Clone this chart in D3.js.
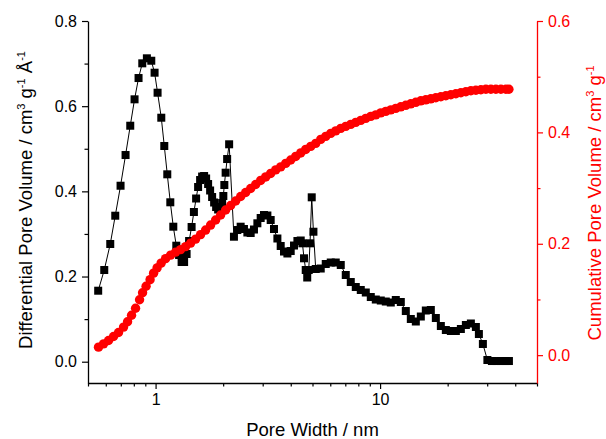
<!DOCTYPE html>
<html><head><meta charset="utf-8">
<script src="https://cdn.jsdelivr.net/npm/d3@7"></script>
<style>
body{margin:0;background:#fff}
svg{display:block}
text{font-family:"Liberation Sans",Arial,Helvetica,sans-serif}
</style>
</head><body>
<svg id="chart" width="606" height="439"></svg>
<script>
// Differential pore volume (black squares)
const poreWidthDiff = [
0.5551,0.5907,0.6282,0.6613,0.6982,0.7350,0.7712,0.8060,0.8397,0.8724,
0.9146,0.9568,0.9898,1.0207,1.0603,1.0934,1.1275,1.1630,1.1993,1.2368,
1.2729,1.3060,1.3399,1.3746,1.4104,1.4470,1.4815,1.5154,1.5468,1.5789,
1.6117,1.6451,1.6793,1.7141,1.7497,1.7860,1.8231,1.8609,1.8995,1.9389,
1.9791,2.0036,2.0243,2.0514,2.0833,2.1265,2.2338,2.3131,2.3931,2.4756,
2.5635,2.6518,2.7433,2.8406,2.9385,3.0397,3.1477,3.2562,3.3684,3.4880,
3.6083,3.7325,3.8650,3.9984,4.1362,4.2831,4.4307,4.5087,4.5834,4.6642,
4.7366,4.8101,4.8747,4.9605,5.0478,5.1685,
5.4407,5.7273,6.0291,6.3467,6.6810,7.0329,7.4034,7.7934,8.2039,8.6361,
9.0909,9.5697,10.072,10.603,11.161,11.749,12.368,13.019,13.705,14.427,
15.187,15.986,16.828,17.715,18.648,19.630,20.664,21.753,22.899,24.105,
25.375,26.712,27.548,28.702,30.06,31.481,32.969,34.528,36.161,37.49];
const diffVolume = [
0.1667,0.2153,0.2764,0.3428,0.4132,0.4853,0.5541,0.6161,0.6661,0.7006,
0.7124,0.7067,0.6786,0.6316,0.5729,0.5065,0.4400,0.3743,0.3170,0.2724,
0.2505,0.2341,0.2341,0.2529,0.2834,0.3163,0.3515,0.3832,0.4102,0.4266,
0.4348,0.4360,0.4302,0.4172,0.4020,0.3867,0.3738,0.3632,0.3574,0.3609,
0.3726,0.3891,0.4149,0.4438,0.4759,0.5105,0.2935,0.3092,0.3170,0.3116,
0.3034,0.3022,0.3104,0.3250,0.3374,0.3444,0.3433,0.3327,0.3116,0.2893,
0.2717,0.2587,0.2541,0.2599,0.2728,0.2834,0.2846,0.2780,0.2428,0.2153,
0.1977,0.2153,0.2780,0.3860,0.3052,0.2177,
0.2188,0.2294,0.2329,0.2329,0.2271,0.2036,0.1871,0.1754,0.1684,0.1625,
0.1519,0.1460,0.1437,0.1413,0.1390,0.1449,0.1402,0.1190,0.1003,0.0944,
0.1061,0.1202,0.1214,0.1026,0.0838,0.0744,0.0721,0.0721,0.0768,0.0862,
0.0897,0.0815,0.0650,0.0416,0.0040,0.0016,0.0016,0.0016,0.0016,0.0016];

// Cumulative pore volume (red circles)
const poreWidthCum = [
0.5568,0.5865,0.6173,0.6498,0.6840,0.7200,0.7502,0.7816,0.8143,0.8484,
0.8750,0.9071,0.9451,0.9797,1.0155,1.0581,1.1079,1.1666,1.2282,1.2925,
1.3606,1.4322,1.5076,1.5871,1.6709,1.7587,1.8513,1.9488,2.0514,2.1594,
2.2732,2.3931,2.5191,2.6518,2.7915,2.9385,3.0933,3.2562,3.4277,3.6083,
3.7984,3.9984,4.2090,4.4307,4.6642,4.9098,5.1685,5.4407,5.7273,6.0291,
6.3467,6.6810,7.0329,7.4034,7.7934,8.2039,8.6361,9.0909,9.5697,10.072,
10.603,11.161,11.749,12.368,13.019,13.705,14.427,15.187,15.986,16.828,
17.715,18.648,19.630,20.664,21.753,22.899,24.105,25.375,26.712,28.119,
29.600,31.159,32.800,34.528,36.347,37.49];
const cumVolume = [
0.0144,0.0203,0.0263,0.0335,0.0407,0.0504,0.0599,0.0716,0.0842,0.0995,
0.1121,0.1238,0.1355,0.1472,0.1566,0.1652,0.1733,0.1796,0.1850,0.1895,
0.1949,0.2012,0.2084,0.2165,0.2246,0.2336,0.2426,0.2516,0.2606,0.2687,
0.2768,0.2849,0.2921,0.2993,0.3065,0.3137,0.3200,0.3263,0.3326,0.3380,
0.3443,0.3505,0.3568,0.3631,0.3694,0.3748,0.3802,0.3874,0.3928,0.3982,
0.4027,0.4072,0.4108,0.4144,0.4180,0.4216,0.4252,0.4288,0.4315,0.4351,
0.4378,0.4405,0.4432,0.4459,0.4486,0.4513,0.4540,0.4567,0.4585,0.4603,
0.4621,0.4639,0.4657,0.4675,0.4693,0.4711,0.4729,0.4747,0.4756,0.4765,
0.4774,0.4774,0.4774,0.4774,0.4774,0.4774];

const xMajorTicks = [1, 10];
const xMinorTicks = [0.5,0.6,0.7,0.8,0.9,2,3,4,5,6,7,8,9,20,30,40,50];
const yLeftTicks = [0, 0.2, 0.4, 0.6, 0.8];
const yLeftMinor = [0.1, 0.3, 0.5, 0.7];
const yRightTicks = [0, 0.2, 0.4, 0.6];
const yRightMinor = [0.1, 0.3, 0.5];

const RED = "#ff0000";
const svg = d3.select("#chart");
const L = 88, R = 537, T = 21, B = 383;

const x = d3.scaleLog().domain([0.5, 50]).range([L, R]);
const yL = d3.scaleLinear().domain([-0.05, 0.8]).range([B, T]);
const yR = d3.scaleLinear().domain([-0.05, 0.6]).range([B, T]);

const fmt = d3.format(".1f");

// Bottom axis
const gx = svg.append("g").attr("transform", `translate(0,${B})`);
gx.call(d3.axisBottom(x).tickValues(xMinorTicks).tickSize(3.5).tickSizeOuter(0).tickFormat(""));
const gx2 = svg.append("g").attr("transform", `translate(0,${B})`);
gx2.call(d3.axisBottom(x).tickValues(xMajorTicks).tickSize(6).tickSizeOuter(0).tickPadding(5).tickFormat(d3.format("d")));
gx2.select(".domain").remove();

// Left axis
const gl = svg.append("g").attr("transform", `translate(${L},0)`);
gl.call(d3.axisLeft(yL).tickValues(yLeftMinor).tickSize(3.5).tickSizeOuter(0).tickFormat(""));
const gl2 = svg.append("g").attr("transform", `translate(${L},0)`);
gl2.call(d3.axisLeft(yL).tickValues(yLeftTicks).tickSize(6).tickSizeOuter(0).tickPadding(5).tickFormat(fmt));
gl2.select(".domain").remove();

// Right axis
const gr = svg.append("g").attr("transform", `translate(${R},0)`);
gr.call(d3.axisRight(yR).tickValues(yRightMinor).tickSize(3.5).tickSizeOuter(0).tickFormat(""));
const gr2 = svg.append("g").attr("transform", `translate(${R},0)`);
gr2.call(d3.axisRight(yR).tickValues(yRightTicks).tickSize(6).tickSizeOuter(0).tickPadding(5).tickFormat(fmt));
gr2.select(".domain").remove();

svg.selectAll("g .domain").attr("stroke-width", 1.3);
svg.selectAll("g .tick line").attr("stroke-width", 1.2);
svg.selectAll("g text").attr("font-size", 16).attr("font-family", "Liberation Sans, Arial, sans-serif");
[gr, gr2].forEach(g => {
  g.selectAll(".domain, .tick line").attr("stroke", RED);
  g.selectAll("text").attr("fill", RED);
});

// Black series
const diffData = poreWidthDiff.map((w, i) => [w, diffVolume[i]]);
const cumData = poreWidthCum.map((w, i) => [w, cumVolume[i]]);

svg.append("path").datum(diffData)
  .attr("fill", "none").attr("stroke", "#000").attr("stroke-width", 1)
  .attr("d", d3.line().x(d => x(d[0])).y(d => yL(d[1])));
const sq = 8;
svg.append("g").selectAll("rect").data(diffData).join("rect")
  .attr("x", d => x(d[0]) - sq/2).attr("y", d => yL(d[1]) - sq/2)
  .attr("width", sq).attr("height", sq).attr("fill", "#000");

// Red series
svg.append("g").selectAll("circle").data(cumData).join("circle")
  .attr("cx", d => x(d[0])).attr("cy", d => yR(d[1]))
  .attr("r", 4.7).attr("fill", RED);

// Titles
svg.append("text").attr("x", (L + R) / 2).attr("y", 436)
  .attr("text-anchor", "middle").attr("font-size", 18.5).text("Pore Width / nm");

const lt = svg.append("text").attr("transform", "translate(32,200) rotate(-90)")
  .attr("text-anchor", "middle").attr("font-size", 18.5);
lt.append("tspan").text("Differential Pore Volume / cm");
lt.append("tspan").attr("font-size", 11).attr("dy", -7).text("3");
lt.append("tspan").attr("dy", 7).text(" g");
lt.append("tspan").attr("font-size", 11).attr("dy", -7).text("-1");
lt.append("tspan").attr("dy", 7).text(" Å");
lt.append("tspan").attr("font-size", 11).attr("dy", -7).text("-1");

const rt = svg.append("text").attr("transform", "translate(601,203) rotate(-90)")
  .attr("text-anchor", "middle").attr("font-size", 18.5).attr("fill", RED);
rt.append("tspan").text("Cumulative Pore Volume / cm");
rt.append("tspan").attr("font-size", 11).attr("dy", -7).text("3");
rt.append("tspan").attr("dy", 7).text(" g");
rt.append("tspan").attr("font-size", 11).attr("dy", -7).text("-1");
</script>
</body></html>
